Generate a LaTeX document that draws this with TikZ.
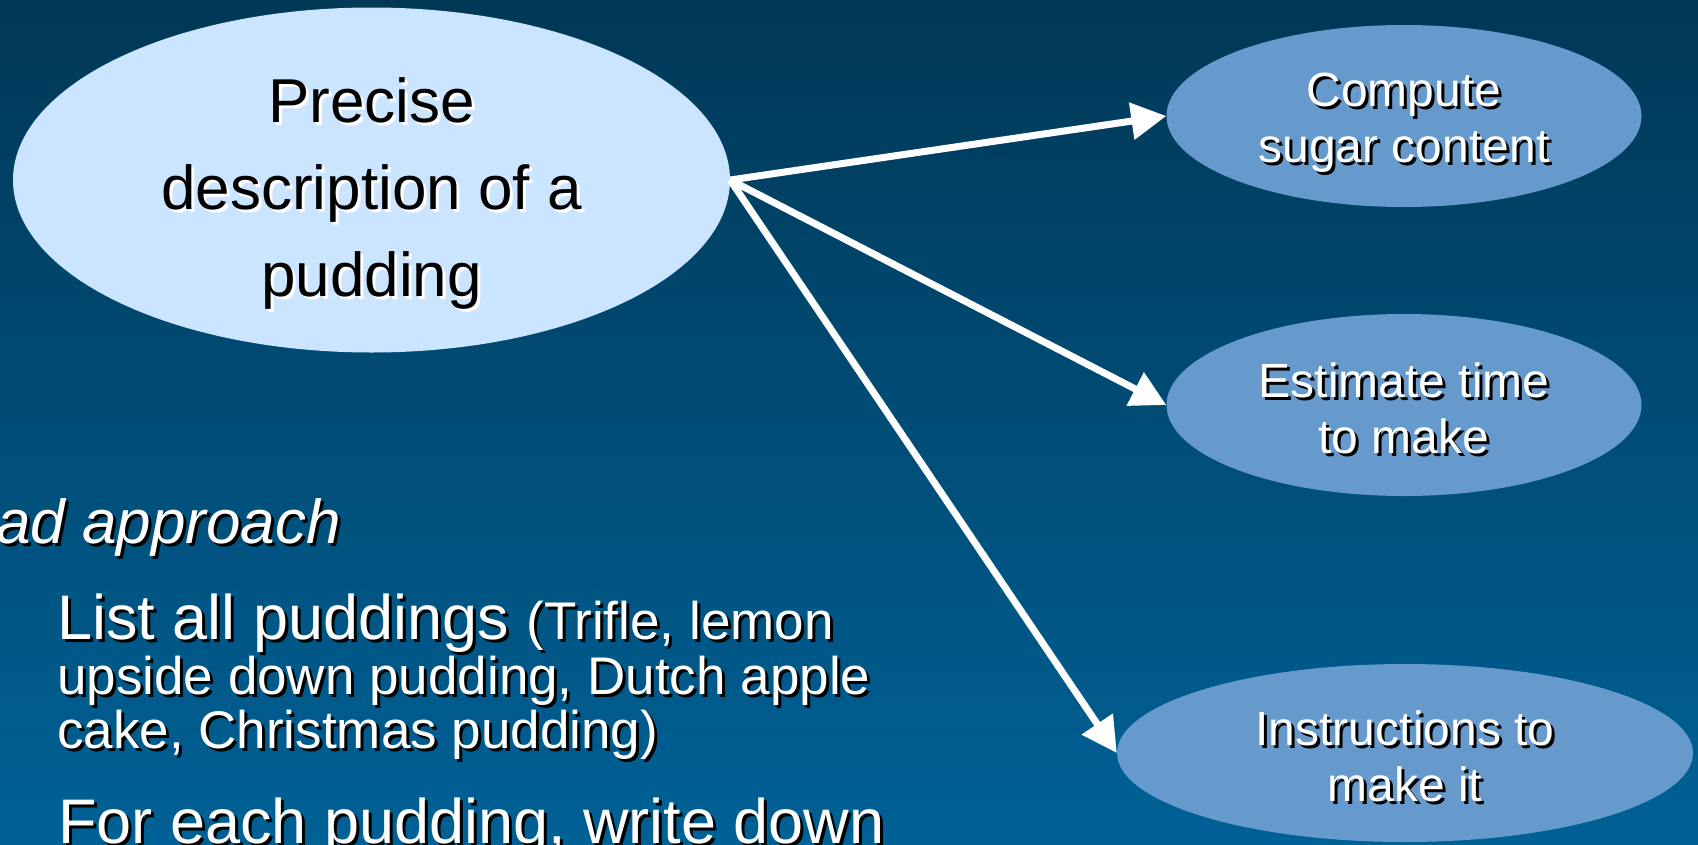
\documentclass[tikz,border=0pt]{standalone}
\usepackage{fontspec}
\setmainfont{Liberation Sans}
\usetikzlibrary{shapes.geometric,arrows.meta}
\definecolor{bgtop}{RGB}{0,56,86}
\definecolor{bgbot}{RGB}{0,97,150}
\definecolor{bigfill}{RGB}{204,229,255}
\definecolor{smallfill}{RGB}{102,153,204}
\tikzset{
  bigell/.style={ellipse, fill=bigfill, minimum width=717pt, minimum height=345pt, inner sep=0pt},
  smallell/.style={ellipse, fill=smallfill, minimum width=475pt, minimum height=182pt, inner sep=0pt},
  bigtxt/.style={align=center, font=\fontsize{62}{87}\selectfont, inner sep=0pt},
  smalltxt/.style={align=center, font=\fontsize{48}{56}\selectfont, inner sep=0pt},
  bodybig/.style={anchor=base west, inner sep=0pt, font=\fontsize{63}{70}\selectfont},
  bodysmall/.style={anchor=base west, inner sep=0pt, font=\fontsize{53}{58}\selectfont},
  conn/.style={draw=white, line width=7pt, -{Triangle[length=35pt,width=36pt]}},
}
% #1 name, #2 position, #3 options, #4 text colour, #5 shadow colour, #6 text
\newcommand\ShTxt[6]{%
  \node[#3, text=#5, xshift=3pt, yshift=-3pt] (#1-sh) at (#2) {#6};
  \node[#3, text=#4] (#1) at (#2) {#6};
}
\begin{document}
\begin{tikzpicture}[x=1pt,y=-1pt]
\useasboundingbox (0,0) rectangle (1698,844);
\clip (0,0) rectangle (1698,844);
\shade[top color=bgtop, bottom color=bgbot] (0,0) rectangle (1698,844);

% ellipses
\node[bigell] (desc) at (371.5,180) {};
\node[smallell] (sugar) at (1404,116) {};
\node[smallell] (time) at (1404,405) {};
\node[smallell, minimum width=576pt, minimum height=178pt] (instr) at (1405,753) {};

% connectors
\draw[conn] (desc.east) -- (sugar.west);
\draw[conn] (desc.east) -- (time.west);
\draw[conn] (desc.east) -- (instr.west);

% ellipse texts
\ShTxt{descT}{371.5,193}{bigtxt}{black}{white}{Precise\\description of a\\pudding}
\ShTxt{sugarT}{1404,123}{smalltxt}{white}{black}{Compute\\sugar content}
\ShTxt{timeT}{1404,408}{smalltxt}{white}{black}{Estimate time\\to make}
\ShTxt{instrT}{1405,756}{smalltxt}{white}{black}{Instructions to\\make it}

% left text
\ShTxt{head}{341,543}{anchor=base east, inner sep=0pt, font=\fontsize{62}{70}\selectfont\itshape}{white}{black}{Bad approach}
\ShTxt{l1}{57,639}{bodybig}{white}{black}{List all puddings {\fontsize{53}{58}\selectfont(Trifle, lemon}}
\ShTxt{l2}{57,694}{bodysmall}{white}{black}{upside down pudding, Dutch apple}
\ShTxt{l3}{57,748}{bodysmall}{white}{black}{cake, Christmas pudding)}
\ShTxt{l4}{58,843}{bodybig}{white}{black}{For each pudding, write down}
\end{tikzpicture}
\end{document}
